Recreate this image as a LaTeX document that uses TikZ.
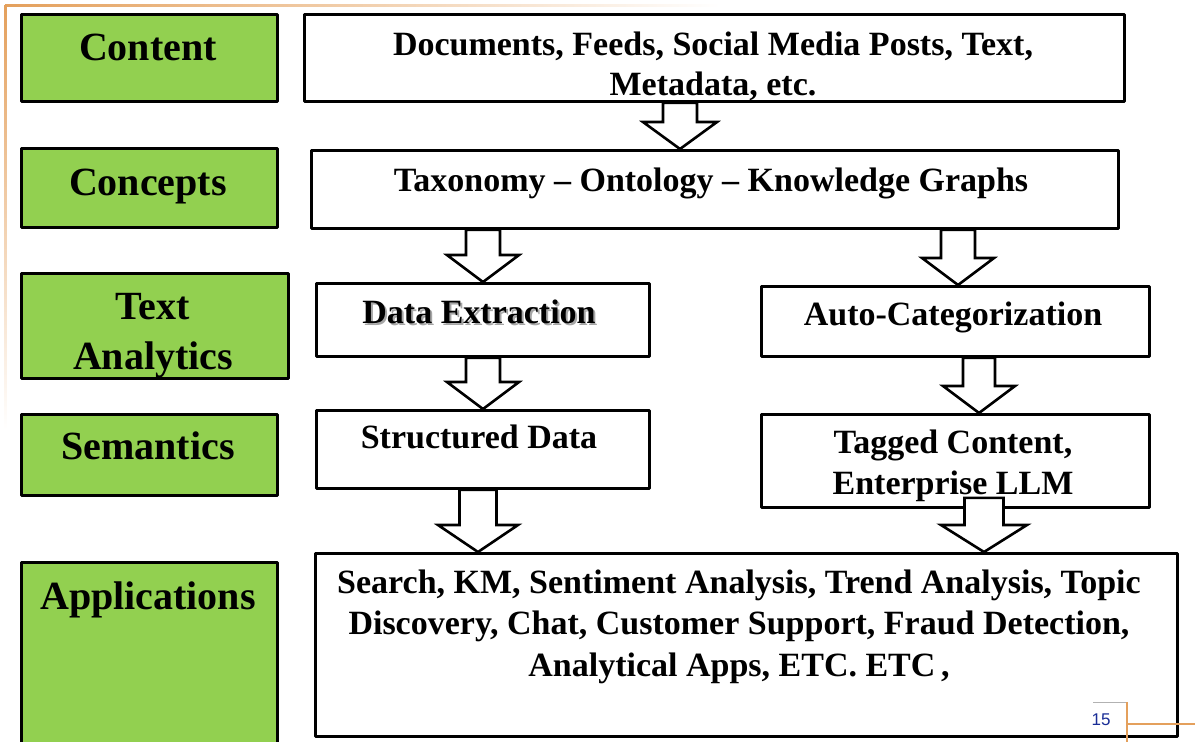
\documentclass[tikz,border=0pt]{standalone}
\usepackage{fontspec}
\setmainfont{Liberation Serif}
\setsansfont{Liberation Sans}
\usetikzlibrary{calc}
\definecolor{leafgreen}{RGB}{146,208,80}
\definecolor{slideorange}{RGB}{228,160,92}
\definecolor{numblue}{RGB}{25,45,150}
% hollow block arrow: top, tip, half shaft, half head
\newcommand{\hollowarrow}[4]{%
  \path #1 coordinate (arrtop) #2 coordinate (arrtip);
  \draw[hollow] ($(arrtop)+(-#3,0)$) -- ($(arrtip)+(-#3,-27)$) -- ($(arrtip)+(-#4,-27)$) -- (arrtip)
    -- ($(arrtip)+(#4,-27)$) -- ($(arrtip)+(#3,-27)$) -- ($(arrtop)+(#3,0)$) -- cycle;}
\begin{document}
\begin{tikzpicture}[x=1pt,y=-1pt,line join=round,
    lbl/.style={draw,line width=2.8pt,fill=leafgreen,anchor=north west,inner sep=0pt},
    box/.style={draw,line width=2.8pt,fill=white,anchor=north west,inner sep=0pt},
    gtxt/.style={anchor=base,inner sep=0pt,font=\fontsize{40}{48}\selectfont\bfseries},
    wtxt/.style={anchor=base,inner sep=0pt,font=\fontsize{34}{41}\selectfont\bfseries},
    hollow/.style={draw,line width=2.6pt,fill=white,line join=miter}]
\useasboundingbox (0,0) rectangle (1195,742);
% left column
\node[lbl,minimum width=256pt,minimum height=87pt] (contentL) at (20,13) {};
\node[lbl,minimum width=256pt,minimum height=79pt] (conceptsL) at (20,147) {};
\node[lbl,minimum width=267pt,minimum height=105pt] (textL) at (20,272) {};
\node[lbl,minimum width=256pt,minimum height=81pt] (semL) at (20,413) {};
\node[lbl,minimum width=256pt,minimum height=220pt] (appL) at (20,561) {};
\node[gtxt] (contentLT) at (148,60) {Content};
\node[gtxt] (conceptsLT) at (148,195) {Concepts};
\node[gtxt] (textLT1) at (153,319) {Text};
\node[gtxt] (textLT2) at (153,369) {Analytics};
\node[gtxt] (semLT) at (148,459) {Semantics};
\node[gtxt] (appLT) at (148,609) {Applications};
% flow boxes
\node[box,minimum width=820pt,minimum height=87pt] (content) at (303,13) {};
\node[box,minimum width=807pt,minimum height=78pt] (concepts) at (310,149) {};
\node[box,minimum width=333pt,minimum height=73pt] (dext) at (315,282) {};
\node[box,minimum width=388pt,minimum height=70pt] (auto) at (760,285) {};
\node[box,minimum width=333pt,minimum height=78pt] (struct) at (315,409) {};
\node[box,minimum width=388pt,minimum height=93pt] (tagged) at (760,413) {};
\node[box,minimum width=862pt,minimum height=183pt] (apps) at (314,552) {};
\node[wtxt] (contentT1) at (713,55) {Documents, Feeds, Social Media Posts, Text,};
\node[wtxt] (contentT2) at (713,95) {Metadata, etc.};
\node[wtxt] (conceptsT) at (711,191) {Taxonomy -- Ontology -- Knowledge Graphs};
\node[wtxt,text=black!35] (dextS) at (481,325.5) {Data Extraction};
\node[wtxt] (dextT) at (479,323) {Data Extraction};
\node[wtxt] (autoT) at (953,325) {Auto-Categorization};
\node[wtxt] (structT) at (479,448) {Structured Data};
\node[wtxt] (taggedT1) at (953,453) {Tagged Content,};
\node[wtxt] (taggedT2) at (953,494) {Enterprise LLM};
\foreach \t/\y [count=\i] in {{Search, KM, Sentiment Analysis, Trend Analysis, Topic}/593,
    {Discovery, Chat, Customer Support, Fraud Detection,}/634,
    {Analytical Apps, ETC. ETC\,,}/676}
  \node[wtxt] (appsT\i) at (739,\y) {\t};
% block arrows
\path (680,0) coordinate (c1) (483,0) coordinate (c2) (958,0) coordinate (c3)
  (979,0) coordinate (c5) (478,0) coordinate (c6) (984,0) coordinate (c7);
\hollowarrow{(content.south -| c1)}{(concepts.north -| c1)}{17}{37}
\hollowarrow{(concepts.south -| c2)}{(dext.north -| c2)}{17}{36}
\hollowarrow{(concepts.south -| c3)}{(auto.north -| c3)}{17}{36}
\hollowarrow{(dext.south -| c2)}{(struct.north -| c2)}{17}{36}
\hollowarrow{(auto.south -| c5)}{(tagged.north -| c5)}{16}{36}
\hollowarrow{(struct.south -| c6)}{(apps.north -| c6)}{18.5}{40}
\hollowarrow{($(tagged.south -| c7)+(0,-11)$)}{(apps.north -| c7)}{19.5}{43}
% slide frame
\shade[left color=slideorange,right color=white] (5,4) rectangle (720,6.5);
\shade[top color=slideorange,bottom color=white] (4,5) rectangle (6.5,430);
\draw[black!30,line width=1pt] (1093,702) -- (1127,702);
\draw[slideorange,line width=1.2pt] (1127,702) -- (1127,742) (1127,724) -- (1195,724);
\node[font=\sffamily\fontsize{17}{19}\selectfont,text=numblue] (pgno) at (1101,720) {15};
\end{tikzpicture}
\end{document}
